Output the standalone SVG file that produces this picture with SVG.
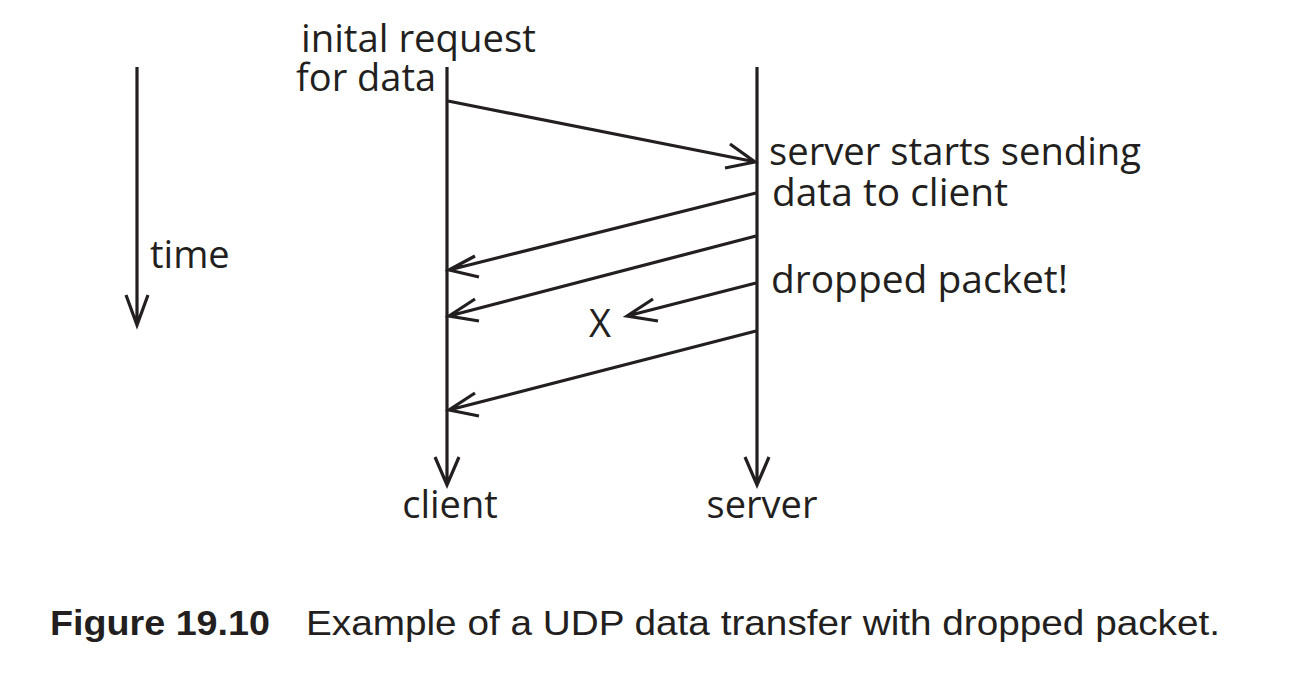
<svg xmlns="http://www.w3.org/2000/svg" width="1306" height="673" viewBox="0 0 1306 673">
<style>
.ln{stroke:#231f20;stroke-width:3.2;fill:none;stroke-linecap:butt;stroke-linejoin:miter}
.t{font-family:"Open Sans","Noto Sans",sans-serif;font-size:38px;fill:#231f20}
.cap{font-family:"Liberation Sans",Arial,sans-serif;font-size:35px;fill:#231f20}
</style>
<rect width="1306" height="673" fill="#fff"/>
<g id="time">
<path class="ln" d="M137 67V324M126 295L137 325L148 295"/>
<text class="t" x="150" y="268">time</text>
</g>
<g id="client">
<path class="ln" d="M447 67V484M435 457L447 485L459 457"/>
<text class="t" x="450" y="518" text-anchor="middle">client</text>
<text class="t" x="301" y="52" textLength="235" lengthAdjust="spacingAndGlyphs">inital request</text>
<text class="t" x="296" y="91">for data</text>
</g>
<g id="server">
<path class="ln" d="M757 67V484M745 457L757 485L769 457"/>
<text class="t" x="762" y="518" text-anchor="middle">server</text>
<text class="t" x="769" y="165" textLength="372" lengthAdjust="spacingAndGlyphs">server starts sending</text>
<text class="t" x="772" y="206" textLength="236" lengthAdjust="spacingAndGlyphs">data to client</text>
<text class="t" x="771" y="293" textLength="297" lengthAdjust="spacingAndGlyphs">dropped packet!</text>
</g>
<g id="connectors">
<path class="ln" d="M448 101L756 162M730 144L755 162L725 168"/>
<path class="ln" d="M756 193L449 270M475 256L449 270L479 277"/>
<path class="ln" d="M756 236L449 316M475 299L449 316L479 321"/>
<path class="ln" d="M756 283L627 316M653 299L627 316L658 321"/>
<path class="ln" d="M756 331L449 410M475 393L449 410L479 416"/>
</g>
<g id="drop">
<text class="t" x="600" y="337" text-anchor="middle">X</text>
</g>
<g id="caption">
<text class="cap" x="50" y="635" font-weight="bold" textLength="220" lengthAdjust="spacingAndGlyphs">Figure 19.10</text>
<text class="cap" x="306" y="635" textLength="914" lengthAdjust="spacingAndGlyphs">Example of a UDP data transfer with dropped packet.</text>
</g>
</svg>
